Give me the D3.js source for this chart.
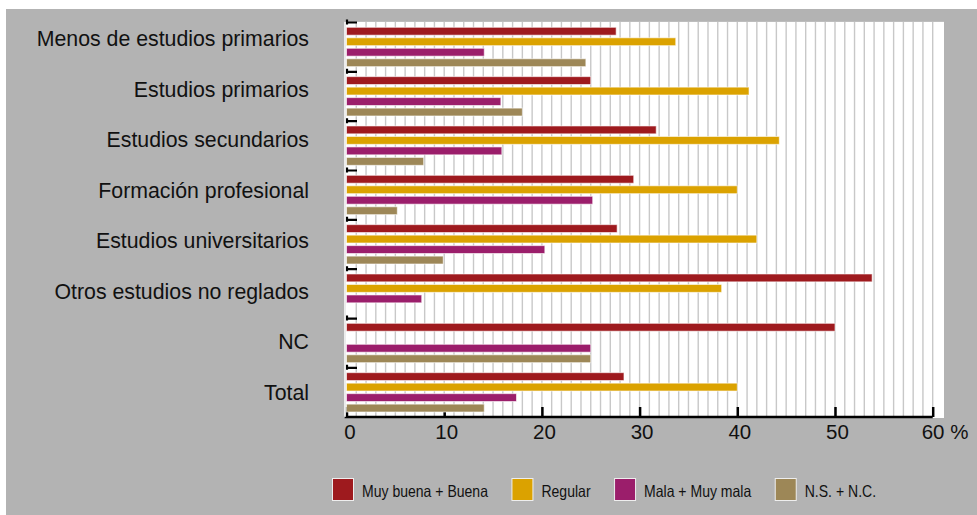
<!doctype html>
<html lang="es">
<head>
<meta charset="UTF-8">
<title>Estado de salud por nivel de estudios</title>
<script src="https://d3js.org/d3.v7.min.js"></script>
<style>
    body { margin: 0; background: #fff; }
    svg { display: block; font-family: 'Liberation Sans', Arial, sans-serif; }
    .cat-label { font-size: 21.3px; fill: #111; }
    .x-axis text { font-size: 20.5px; fill: #111; font-family: 'Liberation Sans', Arial, sans-serif; }
    .legend text { font-size: 16.5px; fill: #111; font-family: 'Liberation Sans Narrow', 'Arial Narrow', 'Liberation Sans', sans-serif; }
</style>
</head>
<body>
<script>
// data (percent)
const categories = ['Menos de estudios primarios', 'Estudios primarios', 'Estudios secundarios',
    'Formación profesional', 'Estudios universitarios', 'Otros estudios no reglados', 'NC', 'Total'];
const seriesNames = ['Muy buena + Buena', 'Regular', 'Mala + Muy mala', 'N.S. + N.C.'];
const buena   = [27.6, 25.0, 31.7, 29.4, 27.7, 53.8, 50.0, 28.4];
const regular = [33.7, 41.2, 44.3, 40.0, 42.0, 38.4, 0, 40.0];
const mala    = [14.1, 15.8, 15.9, 25.2, 20.3, 7.7, 25.0, 17.4];
const nsnc    = [24.5, 18.0, 7.9, 5.2, 9.9, 0, 25.0, 14.1];
const xTicks = [0, 10, 20, 30, 40, 50, 60];
const colors = ['#9e1a1e', '#dba200', '#9b1e6b', '#9d8757'];

const seriesValues = [buena, regular, mala, nsnc];

const width = 977, height = 515;

const svg = d3.select('body').append('svg')
    .attr('width', width)
    .attr('height', height);

// grey panel
svg.append('rect')
    .attr('x', 6).attr('y', 9)
    .attr('width', width - 6).attr('height', height - 9)
    .attr('fill', '#b3b3b3');

const x = d3.scaleLinear().domain([0, 60]).range([346.5, 932.7]);
const y = d3.scaleBand().domain(categories).range([22.5, 417.2]);
const yInner = d3.scaleBand().domain(seriesNames)
    .range([4.8, y.bandwidth() - 5.2])
    .paddingInner(0.25);
// labels sit a little off the band centres in the original
const yLabel = d3.scalePoint().domain(categories).range([46, 400]);

// white plot area
svg.append('rect')
    .attr('x', 344).attr('y', 21)
    .attr('width', 600).attr('height', 397)
    .attr('fill', '#fff');

svg.append('line')
    .attr('x1', 344).attr('x2', 944)
    .attr('y1', 21.5).attr('y2', 21.5)
    .attr('stroke', '#bdbdbd');

// vertical grid, one line per unit
svg.append('g')
    .selectAll('line')
    .data(d3.range(1, 61))
    .enter().append('line')
    .attr('x1', d => x(d)).attr('x2', d => x(d))
    .attr('y1', 22).attr('y2', 417)
    .attr('stroke', '#c8c8c8')
    .attr('stroke-width', 1.4);

// bottom axis, ticks pointing inward
const xAxis = svg.append('g')
    .attr('class', 'x-axis')
    .attr('transform', 'translate(0,417)')
    .call(d3.axisBottom(x).tickValues(xTicks).tickSizeInner(-10).tickSizeOuter(0).tickPadding(7));

xAxis.select('.domain')
    .attr('stroke', '#000')
    .attr('stroke-width', 2.5)
    .attr('d', 'M' + (x(0) - 2) + ',0H' + x(60));
xAxis.selectAll('.tick line')
    .attr('stroke', '#000')
    .attr('stroke-width', 2.5);
xAxis.selectAll('.tick text')
    .attr('dx', d => d === 0 ? 3 : 2);
xAxis.selectAll('.tick')
    .filter(d => d === 60)
    .select('text')
    .attr('text-anchor', 'start')
    .attr('dx', -11.5)
    .text(d => d + ' %');

// left axis ticks at band boundaries
const boundaries = categories.map(c => y(c));
svg.append('g')
    .selectAll('path')
    .data(boundaries)
    .enter().append('path')
    .attr('d', d => 'M347,' + (d - 3) + 'V' + (d + 2) + 'M346,' + d + 'H357')
    .attr('fill', 'none')
    .attr('stroke', '#000')
    .attr('stroke-width', 2.2);

svg.append('line')
    .attr('x1', 345).attr('x2', 345)
    .attr('y1', 22).attr('y2', 417)
    .attr('stroke', '#e6e6e6')
    .attr('stroke-width', 1.5);

// bars
const groups = svg.append('g')
    .selectAll('g')
    .data(categories)
    .enter().append('g')
    .attr('transform', d => 'translate(0,' + y(d) + ')');

groups.selectAll('rect')
    .data((c, i) => seriesNames.map((s, j) => ({ series: s, value: seriesValues[j][i], color: colors[j] })))
    .enter().append('rect')
    .filter(d => d.value > 0)
    .attr('x', x(0))
    .attr('y', d => yInner(d.series))
    .attr('width', d => x(d.value) - x(0))
    .attr('height', yInner.bandwidth())
    .attr('fill', d => d.color)
    .attr('stroke', '#fff')
    .attr('stroke-opacity', 0.6)
    .attr('stroke-width', 1);

// category labels
svg.append('g')
    .selectAll('text')
    .data(categories)
    .enter().append('text')
    .attr('class', 'cat-label')
    .attr('x', 309)
    .attr('y', d => yLabel(d))
    .attr('text-anchor', 'end')
    .text(d => d);

// legend (condensed text, like the original)
const legend = svg.append('g')
    .attr('class', 'legend')
    .attr('transform', 'translate(332,478)');

let lx = 0;
seriesNames.forEach((name, i) => {
    const item = legend.append('g').attr('transform', 'translate(' + lx + ',0)');
    item.append('rect')
        .attr('x', 0.5).attr('y', 0.5)
        .attr('width', 21).attr('height', 22)
        .attr('fill', colors[i])
        .attr('stroke', '#eee')
        .attr('stroke-width', 1);
    const t = item.append('text')
        .attr('x', 30)
        .attr('y', 18.5)
        .text(name);
    const w = t.node().getComputedTextLength() * 0.85;
    t.attr('textLength', w).attr('lengthAdjust', 'spacingAndGlyphs');
    lx += 30 + w + 23.5;
});
</script>
</body>
</html>
